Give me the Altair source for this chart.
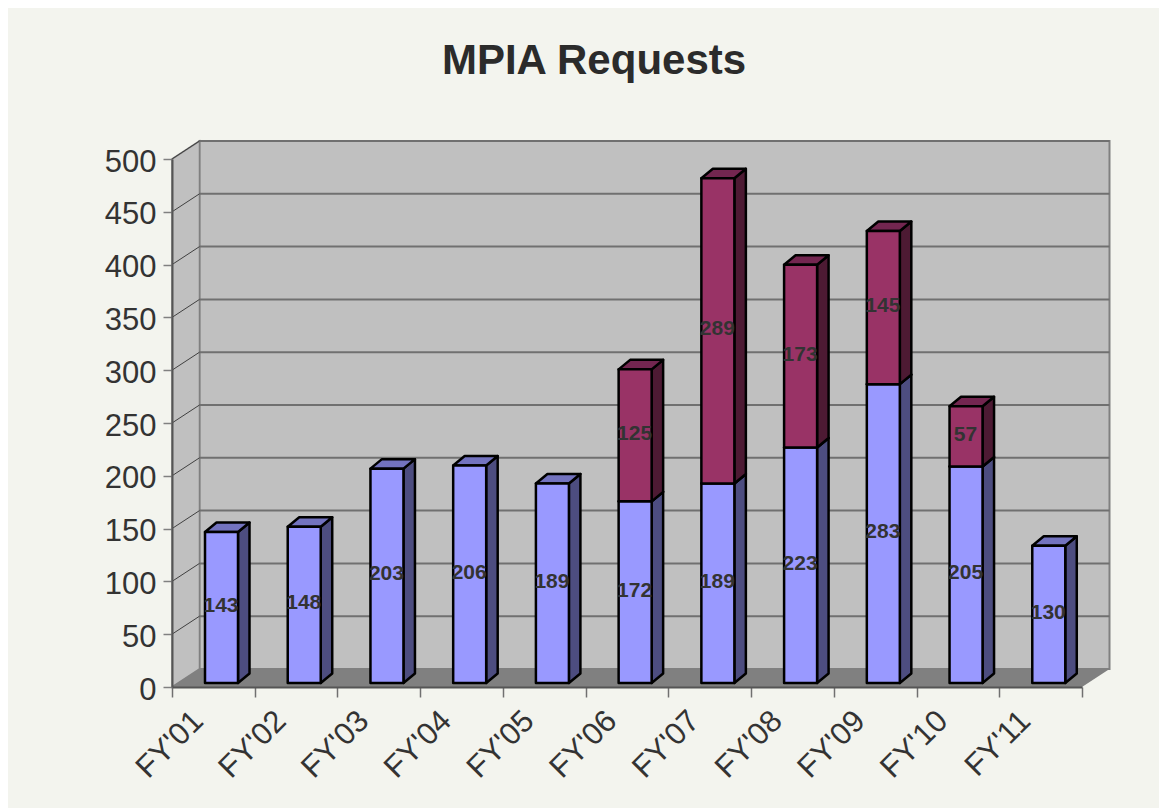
import altair as alt
import pandas as pd

years = ["FY'01", "FY'02", "FY'03", "FY'04", "FY'05", "FY'06", "FY'07", "FY'08", "FY'09", "FY'10", "FY'11"]
lower = [143, 148, 203, 206, 189, 172, 189, 223, 283, 205, 130]
upper = [0, 0, 0, 0, 0, 125, 289, 173, 145, 57, 0]
y_ticks = [0, 50, 100, 150, 200, 250, 300, 350, 400, 450, 500]

W, H = 910, 528
UX = W / 11          # px per category
UY = H / 500         # px per request
WALL_X, WALL_Y = 27.5 / UX, 18 / UY
BAR_L, BAR_R = 33 / UX, 66 / UX
BAR_BASE = 4 / UY
DEP_X, DEP_Y = 11.5 / UX, 9.5 / UY

sx = alt.Scale(domain=[0, 11], nice=False, zero=False)
sy = alt.Scale(domain=[0, 500], nice=False, zero=False)

# --- axes
label_items = ",".join("'" + y.replace("'", "\\'") + "'" for y in years)
label_expr = "[" + label_items + "][datum.value] || ''"
axis_x = alt.Axis(values=list(range(12)), labelExpr=label_expr, labelAngle=-45, labelAlign="right",
                  labelBaseline="middle", labelOffset=26, labelPadding=19, labelFontSize=31,
                  labelFont="Liberation Sans", labelColor="#333333", labelOverlap=False, labelBound=False,
                  labelFlush=False, grid=False, tickSize=10, tickColor="#707070", tickWidth=1.5,
                  domainColor="#555555", domainWidth=2, title=None, zindex=1)
axis_y = alt.Axis(values=y_ticks, labelFontSize=31, labelFont="Liberation Sans", labelColor="#333333",
                  labelPadding=7, labelOffset=3, labelOverlap=False, labelBound=False, labelFlush=False, grid=False,
                  tickSize=9, tickColor="#808080", tickWidth=1.5, domainColor="#555555", domainWidth=2,
                  title=None, zindex=1)

def X(f):
    return alt.X(f + ":Q", scale=sx, axis=axis_x, title=None)
def Y(f):
    return alt.Y(f + ":Q", scale=sy, axis=axis_y, title=None)

# --- walls
back = pd.DataFrame({"x": [WALL_X], "x2": [11 + WALL_X], "y": [WALL_Y], "y2": [500 + WALL_Y]})
back_l = alt.Chart(back).mark_rect(fill="#C0C0C0", stroke="#808080", strokeWidth=2).encode(
    x=X("x"), x2="x2:Q", y=Y("y"), y2="y2:Q")

left = pd.DataFrame({"x": [0, WALL_X], "y": [0, WALL_Y], "y2": [500, 500 + WALL_Y]})
left_l = alt.Chart(left).mark_area(fill="#C0C0C0", stroke="#808080", strokeWidth=1.5).encode(
    x=X("x"), y=Y("y"), y2="y2:Q")

floor = pd.DataFrame({"y": [0, WALL_Y], "x": [0, WALL_X], "x2": [11, 11 + WALL_X]})
floor_l = alt.Chart(floor).mark_area(orient="horizontal", fill="#808080").encode(
    y=Y("y"), x=X("x"), x2="x2:Q")

grid_back = pd.DataFrame({"v": y_ticks[1:]})
grid_back["y"] = grid_back.v + WALL_Y
grid_back["x"] = WALL_X
grid_back["x2"] = 11 + WALL_X
grid_back_l = alt.Chart(grid_back).mark_rule(color="#707070", strokeWidth=2).encode(
    x=X("x"), x2="x2:Q", y=Y("y"))

grid_left = pd.DataFrame(
    [{"v": v, "x": 0, "y": v} for v in y_ticks[1:]] + [{"v": v, "x": WALL_X, "y": v + WALL_Y} for v in y_ticks[1:]])
grid_left_l = alt.Chart(grid_left).mark_line(color="#404040", strokeWidth=1).encode(
    x=X("x"), y=Y("y"), detail="v:N")

# --- bars
def seg_frames(bottoms, values):
    front, side, top, text = [], [], [], []
    for i, (b, v) in enumerate(zip(bottoms, values)):
        if v == 0:
            continue
        xl, xr = i + BAR_L, i + BAR_R
        y0, y1 = b + BAR_BASE, b + v + BAR_BASE
        front.append({"x": xl, "x2": xr, "y": y0, "y2": y1})
        side.append({"i": i, "x": xr, "y": y0, "y2": y1})
        side.append({"i": i, "x": xr + DEP_X, "y": y0 + DEP_Y, "y2": y1 + DEP_Y})
        top.append({"i": i, "y": y1, "x": xl, "x2": xr})
        top.append({"i": i, "y": y1 + DEP_Y, "x": xl + DEP_X, "x2": xr + DEP_X})
        text.append({"x": (xl + xr) / 2 - 0.5 / UX, "y": (y0 + y1) / 2 + 1.5 / UY, "t": str(v)})
    return map(pd.DataFrame, (front, side, top, text))

def seg_layers(bottoms, values, c_front, c_side, c_top):
    front, side, top, text = seg_frames(bottoms, values)
    st = dict(stroke="#000000", strokeWidth=2.5, strokeJoin="round")
    return [
        alt.Chart(side).mark_area(fill=c_side, **st).encode(x=X("x"), y=Y("y"), y2="y2:Q", detail="i:N"),
        alt.Chart(top).mark_area(orient="horizontal", fill=c_top, **st).encode(y=Y("y"), x=X("x"), x2="x2:Q", detail="i:N"),
        alt.Chart(front).mark_rect(fill=c_front, **st).encode(x=X("x"), x2="x2:Q", y=Y("y"), y2="y2:Q"),
    ], text

low_layers, low_text = seg_layers([0] * 11, lower, "#9999FF", "#4D4D80", "#7373BF")
up_layers, up_text = seg_layers(lower, upper, "#993366", "#4D1A33", "#732650")

def text_layer(df):
    return alt.Chart(df).mark_text(font="Liberation Sans", fontWeight="bold", fontSize=21, color="#333333",
                                   baseline="middle", align="center").encode(x=X("x"), y=Y("y"), text="t:N")

chart = alt.layer(
    back_l, left_l, floor_l, grid_back_l, grid_left_l,
    *low_layers, *up_layers, text_layer(low_text), text_layer(up_text),
).properties(
    width=W, height=H,
    autosize=alt.AutoSizeParams(type="none"),
    padding={"left": 164, "top": 151, "right": 77, "bottom": 121},
    background="#F3F4EE",
    title=alt.TitleParams("MPIA Requests", font="Liberation Sans", fontWeight="bold", fontSize=42,
                          color="#2B2B2B", anchor="middle", dx=-33, offset=22, baseline="alphabetic"),
).configure_view(stroke=None)

chart.save("out.html", embed_options={"renderer": "svg", "actions": False})
